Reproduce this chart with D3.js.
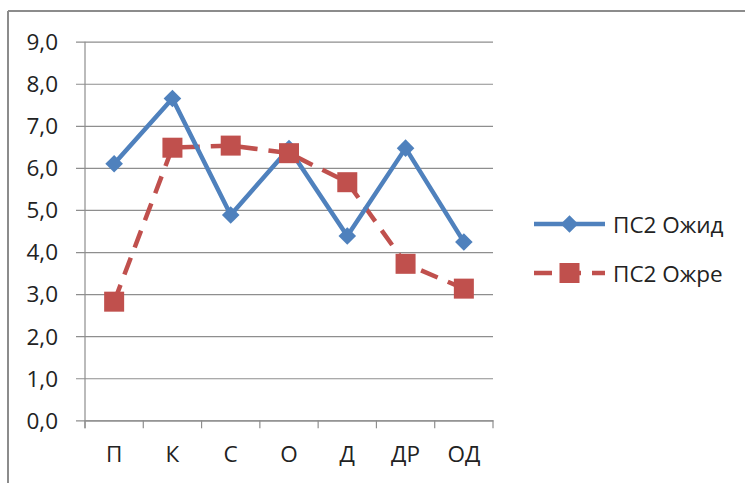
<!DOCTYPE html>
<html>
<head>
<meta charset="utf-8">
<script src="https://cdn.jsdelivr.net/npm/d3@7"></script>
<style>
	html, body { margin: 0; padding: 0; background: #fff; }
	svg { display: block; }
	text { font-family: "Open Sans", "Noto Sans", sans-serif; fill: #222; }
</style>
</head>
<body>
<svg id="chart" width="745" height="483"></svg>
<script>
// categories and series
const categories = ["П", "К", "С", "О", "Д", "ДР", "ОД"];
const ozhid = [6.1, 7.65, 4.88, 6.46, 4.38, 6.47, 4.24];
const ozhre = [2.82, 6.48, 6.53, 6.35, 5.66, 3.72, 3.13];
const series_names = ["ПС2 Ожид", "ПС2 Ожре"];
const y_ticks = [0, 1, 2, 3, 4, 5, 6, 7, 8, 9];

const params = {
		left: 85,
		right: 493,
		top: 41.7,
		bottom: 420.3,
		blue: "#4f81bd",
		red: "#c0504d",
		grid: "#8e8e8e",
		line_width: 4.5,
		font_size: 22.5
	},
	svg = d3.select("#chart");

// outer frame (only top and left are visible in the picture)
svg.append("line").attr("x1", 8).attr("y1", 11).attr("x2", 745).attr("y2", 11)
	.attr("stroke", "#8c8c8c").attr("stroke-width", 2);
svg.append("line").attr("x1", 8).attr("y1", 11).attr("x2", 8).attr("y2", 483)
	.attr("stroke", "#8c8c8c").attr("stroke-width", 2);

const x = d3.scaleBand().domain(categories).range([params.left, params.right]),
	y = d3.scaleLinear().domain([0, 9]).range([params.bottom, params.top]);

const cx = d => x(d) + x.bandwidth() / 2;

// horizontal gridlines + y labels
const yAxis = svg.append("g")
	.attr("transform", `translate(${params.left},0)`)
	.call(d3.axisLeft(y).tickValues(y_ticks)
		.tickSize(-(params.right - params.left))
		.tickFormat(d => d3.format(".1f")(d).replace(".", ",")));
yAxis.select(".domain").remove();
yAxis.selectAll(".tick line")
	.attr("x1", -9)
	.attr("stroke", params.grid).attr("stroke-width", 1.2);
yAxis.selectAll(".tick text")
	.attr("x", -27).attr("dy", "0.35em")
	.attr("font-size", params.font_size).attr("fill", "#222")
	.style("font-family", "'Open Sans', sans-serif");

// vertical axis line
svg.append("line")
	.attr("x1", params.left).attr("x2", params.left)
	.attr("y1", params.top).attr("y2", params.bottom + 8)
	.attr("stroke", params.grid).attr("stroke-width", 1.2);

// category axis with ticks at band edges
const xAxis = svg.append("g")
	.attr("transform", `translate(0,${params.bottom})`)
	.call(d3.axisBottom(x).tickSize(0));
xAxis.select(".domain").attr("stroke", params.grid).attr("stroke-width", 1.2);
xAxis.selectAll(".tick text")
	.attr("y", 42).attr("dy", null)
	.attr("font-size", params.font_size).attr("fill", "#222")
	.style("font-family", "'Open Sans', sans-serif");
svg.append("g").selectAll("line")
	.data(categories.concat(["end"]))
	.join("line")
	.attr("x1", (d, i) => params.left + i * x.bandwidth())
	.attr("x2", (d, i) => params.left + i * x.bandwidth())
	.attr("y1", params.bottom).attr("y2", params.bottom + 8)
	.attr("stroke", params.grid).attr("stroke-width", 1.2);

const line = d3.line().x(d => cx(d.cat)).y(d => y(d.v));
const pts = arr => arr.map((v, i) => ({cat: categories[i], v: v}));

// red dashed series line
svg.append("path")
	.datum(pts(ozhre))
	.attr("d", line)
	.attr("fill", "none")
	.attr("stroke", params.red)
	.attr("stroke-width", params.line_width)
	.attr("stroke-dasharray", "18,11");

// blue solid series
svg.append("path")
	.datum(pts(ozhid))
	.attr("d", line)
	.attr("fill", "none")
	.attr("stroke", params.blue)
	.attr("stroke-width", params.line_width)
	.attr("stroke-linejoin", "round");
const diamond = d3.symbol().type(d3.symbolSquare).size(155);
svg.append("g").selectAll("path")
	.data(pts(ozhid))
	.join("path")
	.attr("d", diamond)
	.attr("transform", d => `translate(${cx(d.cat)},${y(d.v)}) rotate(45)`)
	.attr("fill", params.blue);

// red square markers on top
svg.append("g").selectAll("rect")
	.data(pts(ozhre))
	.join("rect")
	.attr("x", d => cx(d.cat) - 10).attr("y", d => y(d.v) - 10)
	.attr("width", 20).attr("height", 20)
	.attr("fill", params.red);

// legend
const legend = svg.append("g");
[
	{name: series_names[0], color: params.blue, y: 224, dash: null, marker: "diamond"},
	{name: series_names[1], color: params.red, y: 273, dash: "18,11", marker: "square"}
].forEach(s => {
	legend.append("line")
		.attr("x1", 534).attr("x2", 605)
		.attr("y1", s.y).attr("y2", s.y)
		.attr("stroke", s.color).attr("stroke-width", params.line_width)
		.attr("stroke-dasharray", s.dash);
	if (s.marker == "diamond") {
		legend.append("path").attr("d", diamond)
			.attr("transform", `translate(569.5,${s.y}) rotate(45)`)
			.attr("fill", s.color);
	} else {
		legend.append("rect")
			.attr("x", 559.5).attr("y", s.y - 10)
			.attr("width", 20).attr("height", 20)
			.attr("fill", s.color);
	}
	legend.append("text")
		.attr("x", 613).attr("y", s.y + 9)
		.attr("font-size", params.font_size)
		.text(s.name);
});
</script>
</body>
</html>
